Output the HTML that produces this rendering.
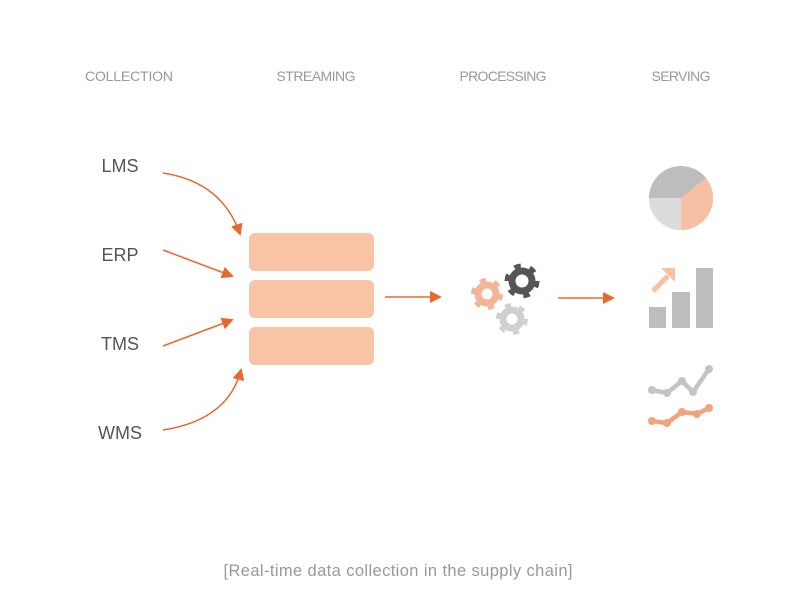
<!DOCTYPE html>
<html><head><style>html,body{margin:0;padding:0;background:#fff}svg{display:block}</style></head>
<body>
<svg width="800" height="600" viewBox="0 0 800 600" xmlns="http://www.w3.org/2000/svg">
<defs>
<marker id="ah" markerWidth="12" markerHeight="12" refX="10" refY="6" orient="auto" markerUnits="userSpaceOnUse">
<path d="M0,0 L12,6 L0,12 z" fill="#e8692e"/>
</marker>
</defs>
<g font-family="Liberation Sans, sans-serif" fill="#999" font-size="14" text-anchor="middle">
<text x="129" y="81" textLength="88">COLLECTION</text>
<text x="316" y="81" textLength="79">STREAMING</text>
<text x="503" y="81" textLength="87">PROCESSING</text>
<text x="681" y="81" textLength="59">SERVING</text>
</g>
<g font-family="Liberation Sans, sans-serif" fill="#555" font-size="18" text-anchor="middle">
<text x="120" y="172">LMS</text>
<text x="120" y="261">ERP</text>
<text x="120" y="350">TMS</text>
<text x="120" y="439">WMS</text>
</g>
<g stroke="#e8692e" stroke-width="1.5" fill="none" marker-end="url(#ah)">
<path d="M163,173 Q222,182 240,234"/>
<path d="M163,250 L232,276"/>
<path d="M163,346 L232,320"/>
<path d="M163,430 Q228,420 241,370"/>
<path d="M385,297 L440,297"/>
<path d="M558,298 L613,298"/>
</g>
<g fill="#f9c3a6">
<rect x="249" y="233" width="125" height="38" rx="6"/>
<rect x="249" y="280" width="125" height="38" rx="6"/>
<rect x="249" y="327" width="125" height="38" rx="6"/>
</g>
<g fill="none">
<g stroke="#f4b496"><circle cx="487" cy="294" r="9" stroke-width="7"/><circle cx="487" cy="294" r="13.5" stroke-width="5" stroke-dasharray="6 8.1"/></g>
<g stroke="#d0d0d0"><circle cx="512" cy="319" r="9" stroke-width="7"/><circle cx="512" cy="319" r="13.5" stroke-width="5" stroke-dasharray="6 8.1"/></g>
<g stroke="#555"><circle cx="522" cy="281" r="10" stroke-width="7"/><circle cx="522" cy="281" r="15" stroke-width="5" stroke-dasharray="6.5 9.2"/></g>
</g>
<circle cx="681" cy="198" r="32" fill="#bdbdbd"/>
<path d="M681,198 L706,178 A32,32 0 0 1 681,230 z" fill="#f7c0a3"/>
<path d="M681,198 L681,230 A32,32 0 0 1 649,198 z" fill="#dcdcdc"/>
<g fill="#bdbdbd">
<rect x="649" y="307" width="17" height="21"/>
<rect x="672" y="292" width="18" height="36"/>
<rect x="696" y="268" width="17" height="60"/>
</g>
<path d="M653,291 L668,276" stroke="#f7c0a3" stroke-width="5"/>
<path d="M661,268 L675,268 L675,282 z" fill="#f7c0a3"/>
<g fill="none" stroke-width="4.5" stroke-linejoin="round">
<polyline points="652,390 667,393 682,381 693,392 709,369" stroke="#c4c4c4"/>
<polyline points="652,421 667,423 682,412 697,414 709,408" stroke="#f4a27c"/>
</g>
<g fill="#c4c4c4"><circle cx="652" cy="390" r="4"/><circle cx="667" cy="393" r="4"/><circle cx="682" cy="381" r="4"/><circle cx="693" cy="392" r="4"/><circle cx="709" cy="369" r="4"/></g>
<g fill="#f4a27c"><circle cx="652" cy="421" r="4"/><circle cx="667" cy="423" r="4"/><circle cx="682" cy="412" r="4"/><circle cx="697" cy="414" r="4"/><circle cx="709" cy="408" r="4"/></g>
<text x="398" y="576" font-family="Liberation Sans, sans-serif" font-size="16.5" fill="#999" text-anchor="middle" textLength="349">[Real-time data collection in the supply chain]</text>
</svg>
</body></html>
